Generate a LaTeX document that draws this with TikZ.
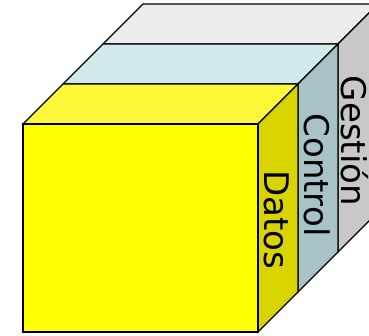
\documentclass[tikz,border=0pt]{standalone}
\usepackage{fontspec}
\setmainfont{DejaVu Sans}
\usepackage{tikz}

\definecolor{gesTop}{HTML}{ECECEC}
\definecolor{gesSide}{HTML}{C8C8C8}
\definecolor{ctrTop}{HTML}{D0E9EB}
\definecolor{ctrSide}{HTML}{A8C3C6}
\definecolor{datTop}{HTML}{FDF83A}
\definecolor{datFront}{HTML}{FFFF00}
\definecolor{datSide}{HTML}{D9D300}

\begin{document}
\begin{tikzpicture}[x=1pt, y=-1pt,
	faccia/.style={draw=black, line width=1.2pt, line join=miter},
	etichetta/.style={rotate=-90, inner sep=0pt, font=\fontsize{34}{34}\selectfont}]
	\useasboundingbox (0,0) rectangle (369,335);
	\clip (0,0) rectangle (369,335);

	% strato Gestion
	\filldraw[faccia, fill=gesTop] (143,4) -- (378,4) -- (338,44) -- (103,44) -- cycle;
	\filldraw[faccia, fill=gesSide] (338,44) -- (378,4) -- (378,212) -- (338,252) -- cycle;

	% strato Control
	\filldraw[faccia, fill=ctrTop] (103,44) -- (338,44) -- (298,84) -- (63,84) -- cycle;
	\filldraw[faccia, fill=ctrSide] (298,84) -- (338,44) -- (338,252) -- (298,292) -- cycle;

	% strato Datos
	\filldraw[faccia, fill=datTop] (63,84) -- (298,84) -- (258,124) -- (23,124) -- cycle;
	\filldraw[faccia, fill=datSide] (258,124) -- (298,84) -- (298,292) -- (258,332) -- cycle;
	\filldraw[faccia, fill=datFront] (23,124) rectangle (258,332);

	% etichette
	\node[etichetta] (gestion) at (355,141) {Gestión};
	\node[etichetta] (control) at (317,175) {Control};
	\node[etichetta] (datos) at (277,220) {Datos};
\end{tikzpicture}
\end{document}
